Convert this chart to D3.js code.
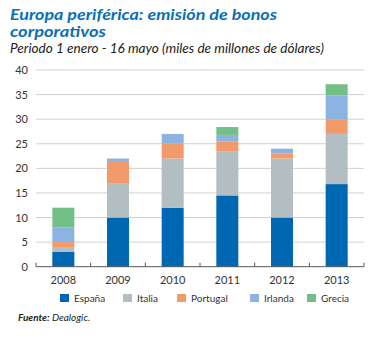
<!DOCTYPE html>
<html><head><meta charset="utf-8">
<script src="https://cdn.jsdelivr.net/npm/d3@7"></script>
<style>body{margin:0;background:#fff}svg{display:block}</style>
</head><body>
<script>
const years = ["2008","2009","2010","2011","2012","2013"];
const seriesNames = ["España","Italia","Portugal","Irlanda","Grecia"];
const espana   = [3, 10, 12, 14.5, 10, 16.8];
const italia   = [1, 7, 10, 9, 12, 10.2];
const portugal = [1, 4.3, 3, 2, 1, 3];
const irlanda  = [3, 0.7, 2, 1.3, 1, 4.8];
const grecia   = [4, 0, 0, 1.6, 0, 2.3];
const colors = ["#0068b3","#b3bec3","#f39a6b","#8cb3e1","#72bf87"];
const yTicks = [0,5,10,15,20,25,30,35,40];

const W=380,H=338;
const svg=d3.select("body").append("svg").attr("width",W).attr("height",H);
const font="Lato, 'Open Sans', sans-serif";

svg.append("text").attr("x",10).attr("y",20).attr("font-family",font).attr("font-size",15.5)
  .attr("font-weight","bold").attr("font-style","italic").attr("fill","#0a6fb7")
  .attr("textLength",267).attr("lengthAdjust","spacingAndGlyphs").text("Europa periférica: emisión de bonos");
svg.append("text").attr("x",10).attr("y",37).attr("font-family",font).attr("font-size",15.5)
  .attr("font-weight","bold").attr("font-style","italic").attr("fill","#0a6fb7")
  .attr("textLength",96).attr("lengthAdjust","spacingAndGlyphs").text("corporativos");
svg.append("text").attr("x",10).attr("y",53).attr("font-family",font).attr("font-size",12.5)
  .attr("font-style","italic").attr("fill","#222")
  .attr("textLength",314).attr("lengthAdjust","spacingAndGlyphs").text("Periodo 1 enero - 16 mayo (miles de millones de dólares)");

const x0=36,x1=364,y0=266.7,y1=70;
const x=d3.scaleBand().domain(years).range([x0,x1]);
const y=d3.scaleLinear().domain([0,40]).range([y0,y1]);

const g=svg.append("g");
g.selectAll("line.grid").data(yTicks.filter(d=>d>0)).join("line").attr("class","grid")
  .attr("x1",x0).attr("x2",x1).attr("y1",d=>y(d)).attr("y2",d=>y(d))
  .attr("stroke","#d0d0d0").attr("stroke-width",1);
g.selectAll("text.yt").data(yTicks).join("text").attr("class","yt")
  .attr("x",28).attr("y",d=>y(d)+4).attr("text-anchor","end")
  .attr("font-family",font).attr("font-size",11).attr("fill","#333").text(d=>d);

const rows=years.map((yr,i)=>({year:yr,"España":espana[i],"Italia":italia[i],"Portugal":portugal[i],"Irlanda":irlanda[i],"Grecia":grecia[i]}));
const stacked=d3.stack().keys(seriesNames)(rows);
const bw=22;
stacked.forEach((s,si)=>{
  g.selectAll("rect.s"+si).data(s).join("rect").attr("class","s"+si)
   .attr("x",d=>x(d.data.year)+x.bandwidth()/2-bw/2).attr("width",bw)
   .attr("y",d=>y(d[1])).attr("height",d=>Math.max(0,y(d[0])-y(d[1])))
   .attr("fill",colors[si]);
});

// x axis
g.append("line").attr("x1",x0).attr("x2",x1).attr("y1",y0).attr("y2",y0).attr("stroke","#555").attr("stroke-width",1);
const bounds=years.map(d=>x(d)).concat([x1]);
g.selectAll("line.tk").data(bounds).join("line").attr("class","tk")
  .attr("x1",d=>d).attr("x2",d=>d).attr("y1",y0).attr("y2",y0-4).attr("stroke","#555");
g.selectAll("text.xt").data(years).join("text").attr("class","xt")
  .attr("x",d=>x(d)+x.bandwidth()/2).attr("y",284).attr("text-anchor","middle")
  .attr("font-family",font).attr("font-size",11).attr("fill","#333").text(d=>d);

// legend
const legX=[60,123,177,250,307];
const lg=svg.append("g");
seriesNames.forEach((n,i)=>{
  lg.append("rect").attr("x",legX[i]).attr("y",294).attr("width",9).attr("height",8).attr("fill",colors[i]);
  lg.append("text").attr("x",legX[i]+14).attr("y",302).attr("font-family",font).attr("font-size",10)
    .attr("fill","#333").text(n);
});
const src=svg.append("text").attr("x",18).attr("y",321).attr("font-family",font).attr("font-size",10).attr("font-style","italic").attr("fill","#222");
src.append("tspan").attr("font-weight","bold").text("Fuente:");
src.append("tspan").text(" Dealogic.");
</script>
</body></html>
